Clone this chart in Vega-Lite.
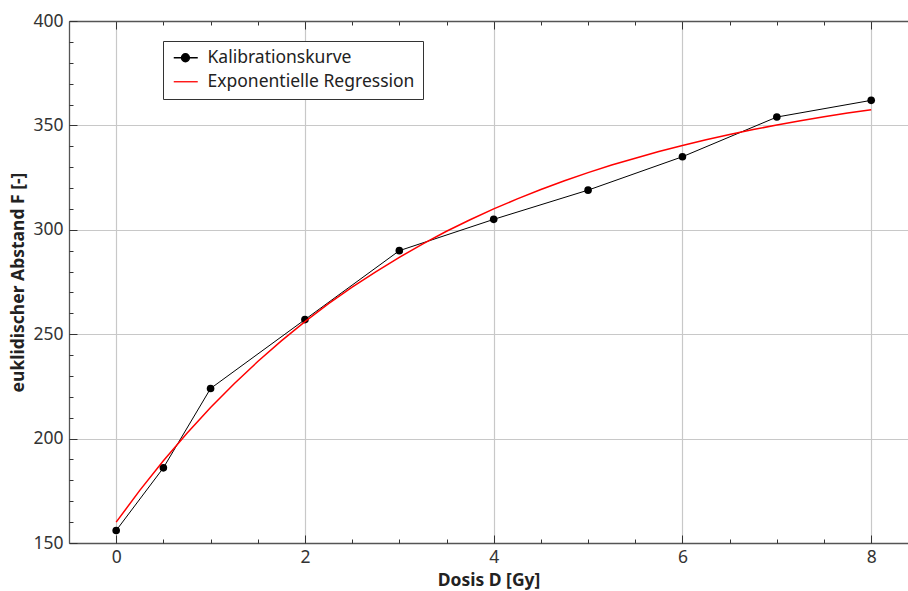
{
  "$schema": "https://vega.github.io/schema/vega-lite/v6.json",
  "width": 839,
  "height": 522,
  "autosize": {"type": "none"},
  "padding": {"left": 69, "top": 21, "right": 0, "bottom": 48},
  "background": "white",
  "config": {
    "font": "Noto Sans",
    "view": {"stroke": null},
    "axis": {
      "domainColor": "#555555",
      "domainWidth": 1.3,
      "tickColor": "#333333",
      "tickWidth": 1,
      "gridColor": "#c8c8c8",
      "gridWidth": 1.2,
      "labelFont": "Noto Sans",
      "labelFontSize": 17.5,
      "labelColor": "#333333",
      "titleFont": "Noto Sans",
      "titleFontSize": 17.5,
      "titleFontWeight": "bold",
      "titleColor": "#222222"
    }
  },
  "datasets": {
    "kal": [
      {"dose": 0, "F": 156, "series": "Kalibrationskurve"},
      {"dose": 0.5, "F": 186, "series": "Kalibrationskurve"},
      {"dose": 1, "F": 224, "series": "Kalibrationskurve"},
      {"dose": 2, "F": 257, "series": "Kalibrationskurve"},
      {"dose": 3, "F": 290, "series": "Kalibrationskurve"},
      {"dose": 4, "F": 305, "series": "Kalibrationskurve"},
      {"dose": 5, "F": 319, "series": "Kalibrationskurve"},
      {"dose": 6, "F": 335, "series": "Kalibrationskurve"},
      {"dose": 7, "F": 354, "series": "Kalibrationskurve"},
      {"dose": 8, "F": 362, "series": "Kalibrationskurve"}
    ],
    "reg": [
      {"dose": 0, "F": 160.0, "series": "Exponentielle Regression"},
      {"dose": 0.25, "F": 175.2, "series": "Exponentielle Regression"},
      {"dose": 0.5, "F": 189.4, "series": "Exponentielle Regression"},
      {"dose": 0.75, "F": 202.6, "series": "Exponentielle Regression"},
      {"dose": 1, "F": 214.9, "series": "Exponentielle Regression"},
      {"dose": 1.25, "F": 226.3, "series": "Exponentielle Regression"},
      {"dose": 1.5, "F": 236.9, "series": "Exponentielle Regression"},
      {"dose": 1.75, "F": 246.8, "series": "Exponentielle Regression"},
      {"dose": 2, "F": 256.0, "series": "Exponentielle Regression"},
      {"dose": 2.25, "F": 264.6, "series": "Exponentielle Regression"},
      {"dose": 2.5, "F": 272.5, "series": "Exponentielle Regression"},
      {"dose": 2.75, "F": 279.9, "series": "Exponentielle Regression"},
      {"dose": 3, "F": 286.8, "series": "Exponentielle Regression"},
      {"dose": 3.25, "F": 293.3, "series": "Exponentielle Regression"},
      {"dose": 3.5, "F": 299.3, "series": "Exponentielle Regression"},
      {"dose": 3.75, "F": 304.8, "series": "Exponentielle Regression"},
      {"dose": 4, "F": 310.0, "series": "Exponentielle Regression"},
      {"dose": 4.25, "F": 314.8, "series": "Exponentielle Regression"},
      {"dose": 4.5, "F": 319.3, "series": "Exponentielle Regression"},
      {"dose": 4.75, "F": 323.5, "series": "Exponentielle Regression"},
      {"dose": 5, "F": 327.4, "series": "Exponentielle Regression"},
      {"dose": 5.25, "F": 331.0, "series": "Exponentielle Regression"},
      {"dose": 5.5, "F": 334.3, "series": "Exponentielle Regression"},
      {"dose": 5.75, "F": 337.5, "series": "Exponentielle Regression"},
      {"dose": 6, "F": 340.4, "series": "Exponentielle Regression"},
      {"dose": 6.25, "F": 343.1, "series": "Exponentielle Regression"},
      {"dose": 6.5, "F": 345.6, "series": "Exponentielle Regression"},
      {"dose": 6.75, "F": 348.0, "series": "Exponentielle Regression"},
      {"dose": 7, "F": 350.2, "series": "Exponentielle Regression"},
      {"dose": 7.25, "F": 352.2, "series": "Exponentielle Regression"},
      {"dose": 7.5, "F": 354.1, "series": "Exponentielle Regression"},
      {"dose": 7.75, "F": 355.9, "series": "Exponentielle Regression"},
      {"dose": 8, "F": 357.5, "series": "Exponentielle Regression"}
    ]
  },
  "layer": [
    {
      "data": {"name": "kal"},
      "mark": {"type": "line", "strokeWidth": 1},
      "encoding": {
        "x": {
          "field": "dose", "type": "quantitative",
          "scale": {"domain": [-0.5, 8.39], "nice": false, "zero": false},
          "axis": {
            "orient": "bottom",
            "title": "Dosis D [Gy]",
            "titlePadding": 6,
            "grid": true,
            "ticks": false,
            "domain": true,
            "tickCount": 100,
            "format": "d",
            "labelOverlap": false,
            "values": [0, 2, 4, 6, 8],
            "labelPadding": 5
          }
        },
        "y": {
          "field": "F", "type": "quantitative",
          "scale": {"domain": [150, 400], "nice": false, "zero": false},
          "axis": {
            "orient": "left",
            "title": "euklidischer Abstand F [-]",
            "titlePadding": 5,
            "grid": true,
            "ticks": false,
            "domain": true,
            "tickCount": 100,
            "format": "d",
            "labelOverlap": false,
            "values": [150, 200, 250, 300, 350, 400],
            "labelPadding": 6
          }
        },
        "color": {
          "field": "series", "type": "nominal",
          "scale": {"domain": ["Kalibrationskurve", "Exponentielle Regression"], "range": ["black", "red"]},
          "legend": {
            "title": null,
            "orient": "none",
            "legendX": 94,
            "legendY": 20,
            "padding": 8,
            "strokeColor": "#333333",
            "fillColor": "white",
            "labelFont": "Noto Sans",
            "labelFontSize": 17.5,
            "labelColor": "#222222",
            "labelLimit": 400,
            "labelOffset": 19,
            "rowPadding": 5,
            "symbolSize": 100,
            "encode": {
              "symbols": {
                "update": {
                  "shape": {"signal": "datum.value === 'Kalibrationskurve' ? 'M-1.2,0H3.6M0.34,0A0.8,0.8 0 1,0 1.94,0A0.8,0.8 0 1,0 0.34,0' : 'M-1.2,0H3.6'"},
                  "fill": {"signal": "datum.value === 'Kalibrationskurve' ? 'black' : 'transparent'"},
                  "stroke": {"signal": "datum.value === 'Kalibrationskurve' ? '#333333' : 'red'"},
                  "strokeWidth": {"value": 1.3},
                  "size": {"value": 100},
                  "opacity": {"value": 1}
                }
              }
            }
          }
        }
      }
    },
    {
      "data": {"name": "kal"},
      "mark": {"type": "point", "filled": true, "size": 58, "opacity": 1},
      "encoding": {
        "x": {
          "field": "dose", "type": "quantitative",
          "axis": {
            "orient": "top",
            "offset": -522,
            "title": null,
            "labels": false,
            "grid": false,
            "domain": false,
            "ticks": true,
            "tickCount": 100,
            "values": [0, 0.5, 1, 1.5, 2, 2.5, 3, 3.5, 4, 4.5, 5, 5.5, 6, 6.5, 7, 7.5, 8],
            "tickSize": {"condition": {"test": "datum.value % 2 === 0", "value": 8}, "value": 4}
          }
        },
        "y": {
          "field": "F", "type": "quantitative",
          "axis": {
            "orient": "right",
            "offset": -839,
            "title": null,
            "labels": false,
            "grid": false,
            "domain": false,
            "ticks": true,
            "tickCount": 100,
            "values": [150, 160, 170, 180, 190, 200, 210, 220, 230, 240, 250, 260, 270, 280, 290, 300, 310, 320, 330, 340, 350, 360, 370, 380, 390, 400],
            "tickSize": {"condition": {"test": "datum.value % 50 === 0", "value": 8}, "value": 4}
          }
        },
        "color": {"value": "black"}
      }
    },
    {
      "data": {"name": "reg"},
      "mark": {"type": "line", "strokeWidth": 1.5},
      "encoding": {
        "x": {
          "field": "dose", "type": "quantitative",
          "axis": {
            "orient": "bottom",
            "offset": -522,
            "title": null,
            "labels": false,
            "grid": false,
            "domain": true,
            "ticks": true,
            "tickCount": 100,
            "values": [0, 0.5, 1, 1.5, 2, 2.5, 3, 3.5, 4, 4.5, 5, 5.5, 6, 6.5, 7, 7.5, 8],
            "tickSize": {"condition": {"test": "datum.value % 2 === 0", "value": 8}, "value": 4}
          }
        },
        "y": {"field": "F", "type": "quantitative", "axis": null},
        "color": {
          "field": "series", "type": "nominal",
          "scale": {"domain": ["Kalibrationskurve", "Exponentielle Regression"], "range": ["black", "red"]}
        }
      }
    }
  ],
  "resolve": {"axis": {"x": "independent", "y": "independent"}}
}
